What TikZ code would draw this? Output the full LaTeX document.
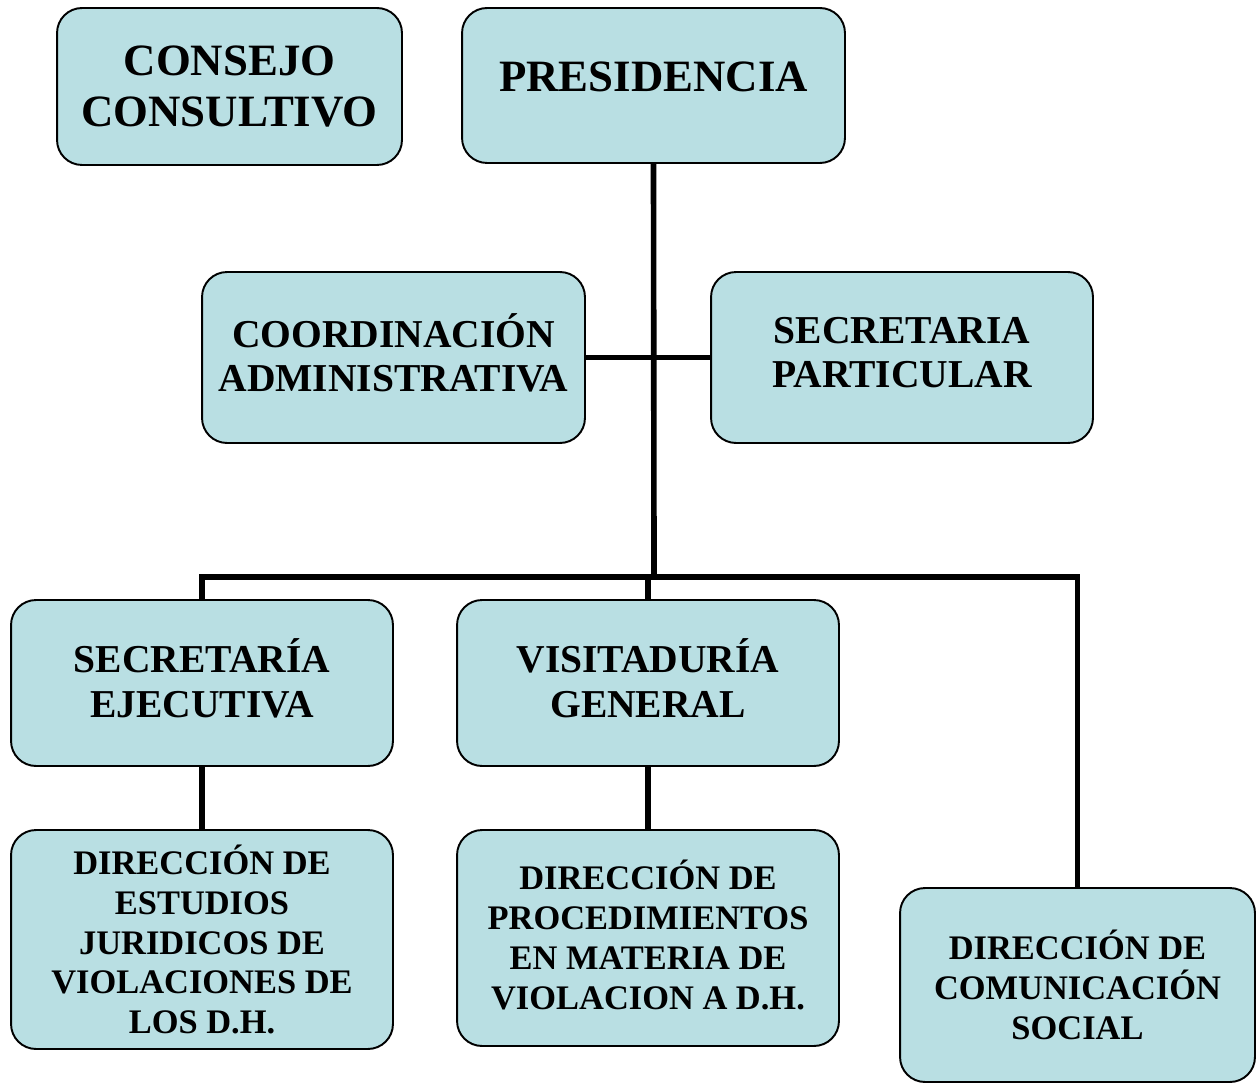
\documentclass[tikz,border=0pt]{standalone}
\usepackage{fontspec}
\setmainfont{Liberation Serif}
\definecolor{boxblue}{RGB}{185,223,227}
\begin{document}
\begin{tikzpicture}[x=0.02cm,y=-0.02cm,
  box/.style={draw=black, line width=1.1pt, fill=boxblue, rounded corners=0.5cm,
    align=center, inner sep=0pt},
  big/.style={font=\bfseries\fontsize{25.5}{29}\selectfont},
  mid/.style={font=\bfseries\fontsize{22.5}{25.5}\selectfont},
  small/.style={font=\bfseries\fontsize{19.6}{22.7}\selectfont},
  conn/.style={line width=3.2pt, line join=miter}]
\useasboundingbox (0,0) rectangle (1256,1084);
\clip (0,0) rectangle (1256,1084);
\node[box, big, minimum width=6.9cm, minimum height=3.14cm] (cons) at (229.5,86.5) {CONSEJO\\CONSULTIVO};
\node[box, big, minimum width=7.66cm, minimum height=3.1cm, text depth=0.35cm] (pres) at (653.5,85.5) {PRESIDENCIA};
\node[box, mid, minimum width=7.66cm, minimum height=3.42cm, text depth=0.2cm] (coord) at (393.5,357.5) {COORDINACIÓN\\ADMINISTRATIVA};
\node[box, mid, minimum width=7.64cm, minimum height=3.42cm, text depth=0.2cm] (secp) at (902,357.5) {SECRETARIA\\PARTICULAR};
\node[box, mid, minimum width=7.64cm, minimum height=3.32cm, text depth=0.2cm] (sece) at (202,683) {SECRETARÍA\\EJECUTIVA};
\node[box, mid, minimum width=7.64cm, minimum height=3.32cm, text depth=0.2cm] (visit) at (648,683) {VISITADURÍA\\GENERAL};
\node[box, small, minimum width=7.64cm, minimum height=4.38cm] (dest) at (202,939.5) {DIRECCIÓN DE\\ESTUDIOS\\JURIDICOS DE\\VIOLACIONES DE\\LOS D.H.};
\node[box, small, minimum width=7.64cm, minimum height=4.32cm, text depth=0.12cm] (dproc) at (648,938) {DIRECCIÓN DE\\PROCEDIMIENTOS\\EN MATERIA DE\\VIOLACION A D.H.};
\node[box, small, minimum width=7.1cm, minimum height=3.88cm] (dcom) at (1077.5,985) {DIRECCIÓN DE\\COMUNICACIÓN\\SOCIAL};
\coordinate (bus) at (654,577);
\draw[conn] (pres.south) -- (bus);
\draw[conn] (coord.east) -- (secp.west);
\draw[conn] (sece.north) |- (bus) -| (dcom.north);
\draw[conn] (visit.north) -- (visit.north |- bus);
\draw[conn] (sece.south) -- (dest.north);
\draw[conn] (visit.south) -- (dproc.north);
\end{tikzpicture}
\end{document}
